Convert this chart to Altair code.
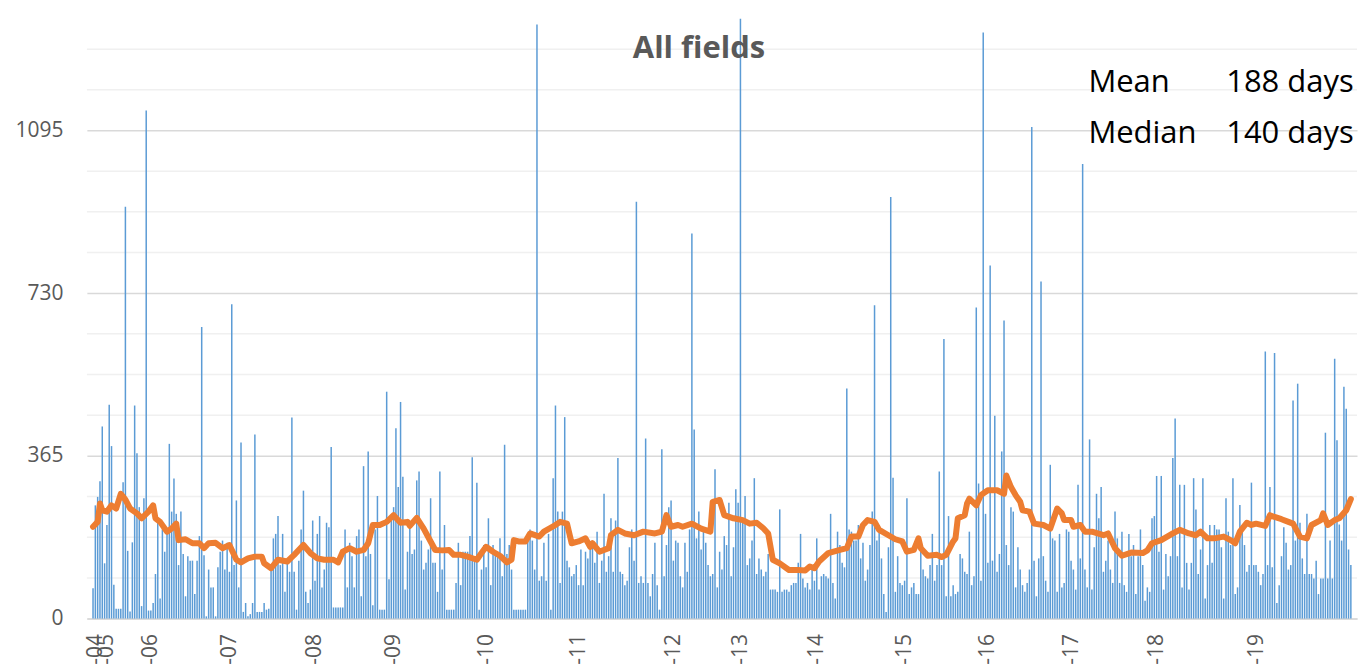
import altair as alt
import pandas as pd

# ---- data ----
values = [
    68, 254, 273, 308, 431, 124, 210, 480, 387, 76,
    22, 22, 22, 306, 924, 152, 16, 171, 478, 371,
    250, 28, 270, 1140, 18, 18, 35, 100, 217, 45,
    200, 150, 195, 392, 240, 314, 235, 120, 240, 145,
    50, 140, 130, 130, 55, 130, 185, 654, 142, 5,
    110, 70, 70, 5, 115, 150, 175, 110, 170, 105,
    705, 120, 265, 70, 395, 15, 35, 5, 10, 35,
    413, 15, 15, 15, 35, 20, 22, 120, 180, 190,
    230, 120, 190, 60, 135, 105, 451, 105, 20, 130,
    200, 287, 60, 35, 65, 220, 85, 190, 230, 70,
    110, 215, 205, 385, 25, 25, 25, 25, 25, 200,
    70, 170, 140, 70, 185, 200, 50, 342, 140, 375,
    145, 30, 200, 275, 20, 20, 20, 509, 88, 220,
    250, 427, 295, 486, 318, 65, 150, 205, 145, 155,
    310, 330, 175, 110, 125, 155, 270, 125, 125, 60,
    330, 110, 210, 20, 20, 20, 20, 80, 170, 75,
    150, 150, 150, 185, 362, 140, 305, 20, 110, 165,
    115, 225, 75, 165, 150, 150, 180, 95, 390, 145,
    165, 110, 20, 20, 20, 20, 20, 20, 190, 200,
    175, 110, 1333, 85, 95, 170, 85, 190, 20, 315,
    478, 240, 80, 240, 452, 130, 115, 95, 100, 120,
    75, 155, 75, 150, 135, 155, 160, 125, 195, 80,
    130, 280, 105, 140, 225, 105, 220, 360, 105, 100,
    75, 85, 160, 200, 130, 935, 80, 95, 80, 404,
    80, 50, 100, 170, 75, 20, 380, 95, 165, 250,
    265, 130, 175, 170, 95, 70, 170, 105, 200, 864,
    424, 180, 240, 155, 195, 170, 120, 95, 100, 335,
    70, 150, 110, 185, 165, 260, 95, 160, 290, 260,
    1346, 220, 275, 120, 135, 175, 315, 100, 135, 110,
    95, 105, 145, 65, 65, 65, 60, 245, 60, 65,
    65, 60, 75, 80, 80, 125, 190, 90, 70, 80,
    65, 115, 85, 180, 65, 95, 100, 95, 90, 235,
    80, 45, 195, 165, 125, 115, 516, 200, 195, 175,
    175, 210, 135, 170, 85, 110, 165, 240, 703, 175,
    210, 135, 55, 15, 160, 946, 316, 60, 140, 80,
    75, 85, 270, 55, 70, 80, 55, 55, 150, 110,
    95, 90, 120, 190, 85, 120, 330, 120, 627, 50,
    230, 50, 75, 55, 60, 145, 135, 105, 100, 195,
    75, 95, 698, 303, 85, 1315, 235, 125, 792, 130,
    455, 105, 145, 375, 669, 165, 120, 250, 240, 70,
    160, 110, 75, 60, 80, 110, 1103, 130, 50, 135,
    756, 140, 85, 60, 345, 180, 175, 60, 190, 70,
    80, 200, 195, 130, 110, 65, 300, 135, 1020, 110,
    70, 402, 65, 160, 280, 225, 295, 105, 130, 175,
    110, 80, 240, 180, 80, 195, 75, 60, 190, 140,
    165, 55, 140, 200, 120, 40, 70, 60, 225, 230,
    320, 150, 320, 65, 145, 95, 140, 360, 449, 140,
    300, 70, 300, 125, 65, 125, 315, 245, 100, 155,
    315, 45, 120, 210, 125, 210, 200, 200, 160, 45,
    270, 195, 165, 315, 55, 70, 255, 210, 165, 105,
    120, 305, 120, 120, 105, 75, 100, 599, 120, 295,
    115, 596, 35, 75, 140, 205, 170, 110, 120, 489,
    175, 527, 215, 135, 100, 235, 100, 100, 90, 130,
    55, 90, 90, 417, 90, 175, 90, 583, 400, 211,
    175, 520, 471, 155, 120,
]

trend_index = [
    0, 2, 3, 4, 6, 8, 10, 12, 14, 16, 19, 21, 24, 26, 27, 29, 32, 34, 36, 37,
    40, 43, 46, 48, 50, 53, 56, 59, 62, 64, 67, 70, 73, 74, 77, 80, 84, 87, 91, 94,
    97, 100, 104, 106, 108, 111, 114, 117, 119, 121, 124, 127, 130, 133, 136, 137, 140, 143, 146, 148,
    151, 154, 156, 159, 162, 166, 168, 170, 173, 176, 179, 181, 182,
    184, 187, 189, 193, 195, 200, 202, 205, 207, 210, 213, 215, 216, 219, 223, 224, 227, 230, 234, 238,
    243, 246, 248, 250, 253, 255, 259, 263, 267, 268, 271, 273, 277, 281, 284, 287, 290, 292, 294, 297,
    301, 305, 308, 310, 312, 314, 318, 323, 326, 328, 331, 333, 335, 338, 340, 344, 347, 350, 352, 355,
    357, 358, 361, 365,
    367, 369, 372, 373, 374, 377, 378, 379, 382, 384, 387, 391, 394, 395, 397, 399, 401, 402, 405, 407,
    411, 414, 417, 419, 420, 423, 424, 427, 429, 432, 437, 439, 442, 445, 449, 454, 456, 458, 462, 467,
    470, 474, 477, 479, 482, 485, 489, 492, 494, 496, 499, 501, 503, 507, 509, 511, 514, 517, 519, 522,
    525, 527, 531, 532, 534, 537, 539, 542, 544,
]
trend_value = [
    206, 217, 258, 243, 240, 254, 247, 280, 267, 247, 236, 225, 240, 254, 225, 217, 195, 202, 213, 176,
    178, 169, 169, 158, 169, 170, 158, 165, 132, 126, 135, 139, 139, 124, 113, 132, 128, 143, 165, 147,
    135, 132, 132, 126, 150, 158, 150, 154, 169, 210, 210, 217, 232, 215, 217, 208, 226, 202, 173, 154,
    153, 154, 143, 143, 139, 132, 147, 161, 150, 141, 126, 132, 176,
    173, 173, 191, 184, 195, 210, 217, 213, 169, 173, 180, 161, 169, 150, 158, 187, 199, 191, 187, 195,
    191, 195, 232, 206, 210, 206, 213, 202, 195, 262, 266, 232, 225, 221, 213, 215, 202, 191, 132, 124,
    109, 109, 108, 117, 113, 128, 147, 154, 158, 184, 184, 210, 221, 217, 199, 187, 178, 173, 150, 154,
    180, 158, 141, 143,
    138, 143, 173, 180, 225, 232, 258, 269, 254, 277, 288, 288, 280, 321, 295, 277, 262, 243, 240, 213,
    210, 202, 247, 236, 221, 221, 206, 210, 195, 195, 187, 191, 158, 141, 148, 147, 153, 169, 176, 191,
    199, 191, 187, 195, 180, 180, 184, 176, 169, 195, 215, 210, 213, 208, 232, 228, 223, 217, 213, 184,
    180, 210, 221, 236, 210, 221, 225, 243, 268,
]

year_labels = ["-04", "-05", "-06", "-07", "-08", "-09", "-10", "-11",
               "-12", "-13", "-14", "-15", "-16", "-17", "-18", "-19"]
year_label_index = [1, 6, 25, 59, 96, 130, 170, 210, 251, 280, 313, 351, 387, 423, 460, 503]

major_ticks = [0, 365, 730, 1095]
minor_grid = [91.25, 182.5, 273.75, 456.25, 547.5, 638.75, 821.25, 912.5,
              1003.75, 1186.25, 1277.5]

chart_title = "All fields"
stat_names = ["Mean", "Median"]
stat_values = ["188 days", "140 days"]

# ---- tables ----
n = len(values)
bars_df = pd.DataFrame({"idx": list(range(n)), "days": values})
trend_df = pd.DataFrame({"idx": trend_index, "days": trend_value})
grid_df = pd.DataFrame({"g": minor_grid})

xscale = alt.Scale(domain=[-0.5, n - 0.5], nice=False, zero=False)
yscale = alt.Scale(domain=[0, 1368.75], nice=False, zero=True)

label_expr = (
    "[" + ",".join("'" + s + "'" for s in year_labels) + "]"
    + "[indexof([" + ",".join(str(v) for v in year_label_index) + "], datum.value)]"
)

x_axis = alt.Axis(
    values=year_label_index, labelExpr=label_expr, labelAngle=270,
    grid=False, ticks=False, tickSize=0, domain=True, domainColor="#D9D9D9",
    domainWidth=1.5, labelFont="Open Sans", labelFontSize=21, labelColor="#595959",
    labelPadding=15, title=None, labelOverlap=False, labelFlush=False, labelBound=False,
)
y_axis = alt.Axis(
    values=major_ticks, format="d", grid=True, gridColor="#D9D9D9", gridWidth=1.5,
    ticks=False, tickSize=0, domain=False, labelFont="Open Sans", labelFontSize=21,
    labelColor="#595959", labelPadding=24, title=None,
)

grid = alt.Chart(grid_df).mark_rule(color="#F0F0F0", strokeWidth=1.5).encode(
    y=alt.Y("g:Q", scale=yscale, axis=y_axis)
)

bars = alt.Chart(bars_df).mark_bar(size=1.5, color="#5B9BD5").encode(
    x=alt.X("idx:Q", scale=xscale, axis=x_axis),
    y=alt.Y("days:Q", scale=yscale, axis=y_axis),
)

line = alt.Chart(trend_df).mark_line(
    color="#ED7D31", strokeWidth=6, strokeCap="round", strokeJoin="round"
).encode(
    x=alt.X("idx:Q", scale=xscale),
    y=alt.Y("days:Q", scale=yscale),
)

title = alt.Chart(pd.DataFrame({"t": [chart_title]})).mark_text(
    font="Open Sans", fontWeight="bold", fontSize=31, color="#595959",
    align="center", baseline="alphabetic",
).encode(x=alt.value(613), y=alt.value(50), text="t:N")

stat_left = alt.Chart(pd.DataFrame({"t": ["\n".join(stat_names)]})).mark_text(
    font="Open Sans", fontSize=31, color="#000000", align="left",
    baseline="alphabetic", lineBreak="\n", lineHeight=51,
).encode(x=alt.value(1003), y=alt.value(84), text="t:N")

stat_right = alt.Chart(pd.DataFrame({"t": ["\n".join(stat_values)]})).mark_text(
    font="Open Sans", fontSize=31, color="#000000", align="left",
    baseline="alphabetic", lineBreak="\n", lineHeight=51,
).encode(x=alt.value(1141), y=alt.value(84), text="t:N")

chart = alt.layer(grid, bars, line, title, stat_left, stat_right).properties(
    width=round(n * 2.334), height=611,
    padding={"left": 6, "top": 0, "right": 0, "bottom": 0},
    background="#FFFFFF",
).configure_view(stroke=None)

chart.save("out.html", embed_options={"renderer": "svg", "actions": False})
